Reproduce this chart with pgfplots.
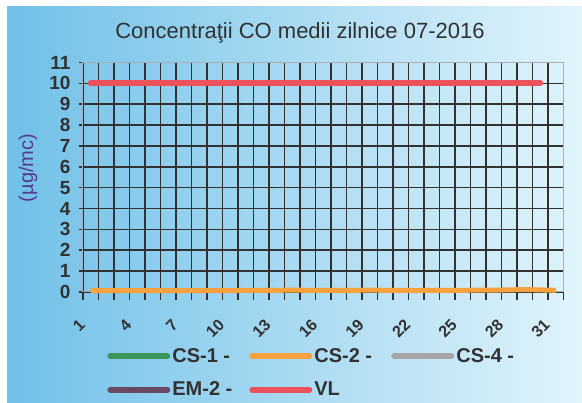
\documentclass[border=0pt]{standalone}
\usepackage{pgfplots}
\pgfplotsset{compat=1.18}
\usepackage{fontspec}
\setmainfont{Liberation Sans}
\definecolor{bgl}{RGB}{112,192,232}
\definecolor{bgr}{RGB}{225,244,251}
\definecolor{gridc}{RGB}{50,50,50}
\definecolor{gridl}{RGB}{170,174,180}
\definecolor{cs1}{RGB}{60,150,90}
\definecolor{cs2}{RGB}{247,162,62}
\definecolor{cs4}{RGB}{165,165,170}
\definecolor{em2}{RGB}{105,72,100}
\definecolor{vl}{RGB}{235,82,92}
\definecolor{txt}{RGB}{50,50,50}
\definecolor{ylab}{RGB}{88,58,140}
\begin{document}
\begin{tikzpicture}
\fill[white] (0pt,0pt) rectangle (582pt,403pt);
\shade[left color=bgl, right color=bgr] (7pt,0pt) rectangle (582pt,396pt);
\node[font=\fontsize{22}{26}\selectfont, text=txt] at (300pt,370pt) {Concentraţii CO medii zilnice 07-2016};
\node[rotate=90, font=\fontsize{20}{24}\selectfont, text=ylab] at (28pt,235pt) {(µg/mc)};
\begin{axis}[
  at={(83pt,111pt)}, anchor=south west,
  width=480.5pt, height=229.5pt, scale only axis,
  xmin=0.5, xmax=31.5, ymin=0, ymax=11,
  xtick={1,4,...,31},
  minor xtick={0.5,1.5,...,31.5},
  ytick={0,2,3,5,6,8,9,10,11},
  extra y ticks={1,4,7},
  extra y tick style={grid style={gridl, line width=1.5pt}},
  ymajorgrids, xminorgrids,
  major grid style={gridc, line width=1.6pt},
  minor grid style={gridc, line width=1.6pt},
  axis line style={gridl, line width=1pt},
  tick align=outside,
  xtick pos=left, ytick pos=left,
  tick style={gridc, line width=1.6pt},
  major x tick style={draw=none},
  major tick length=4pt, minor tick length=8pt,
  ticklabel style={font=\bfseries\fontsize{19}{21}\selectfont, text=txt},
  /pgf/number format/assume math mode=true,
  xticklabel style={font=\bfseries\fontsize{16}{18}\selectfont, inner sep=1pt, xshift=-8pt, yshift=-25pt, rotate=45, anchor=east},
  yticklabel style={xshift=-5pt},
  clip=false,
  legend columns=3,
  legend style={draw=none, fill=none, at={(0.044,-0.228)}, anchor=north west,
    font=\bfseries\fontsize{20}{22}\selectfont, text=txt, row sep=14pt,
    /tikz/every even column/.append style={column sep=0pt}},
  legend image code/.code={\draw[#1, line width=6pt, line cap=round] (0pt,0pt) -- (57pt,0pt);},
]
\addlegendimage{cs1}
\addlegendentry{\makebox[75pt][l]{CS-1 -}}
\addlegendimage{cs2}
\addlegendentry{\makebox[75pt][l]{CS-2 -}}
\addlegendimage{cs4}
\addlegendentry{\makebox[75pt][l]{CS-4 -}}
\addlegendimage{em2}
\addlegendentry{\makebox[75pt][l]{EM-2 -}}
\addlegendimage{vl}
\addlegendentry{\makebox[75pt][l]{VL}}
\addplot[cs2, line width=5pt, forget plot] coordinates {
(1,0.06)(2,0.07)(3,0.07)(4,0.06)(5,0.07)(6,0.07)(7,0.06)(8,0.07)(9,0.07)(10,0.07)
(11,0.08)(12,0.08)(13,0.08)(14,0.09)(15,0.08)(16,0.08)(17,0.07)(18,0.08)(19,0.09)(20,0.08)
(21,0.08)(22,0.07)(23,0.08)(24,0.08)(25,0.08)(26,0.09)(27,0.09)(28,0.10)(29,0.12)(30,0.10)(31,0.08)};
\addplot[vl, line width=6pt, line cap=round, forget plot] coordinates {
(1,10)(2,10)(3,10)(4,10)(5,10)(6,10)(7,10)(8,10)(9,10)(10,10)
(11,10)(12,10)(13,10)(14,10)(15,10)(16,10)(17,10)(18,10)(19,10)(20,10)
(21,10)(22,10)(23,10)(24,10)(25,10)(26,10)(27,10)(28,10)(29,10)(30,10)};
\end{axis}
\end{tikzpicture}
\end{document}
